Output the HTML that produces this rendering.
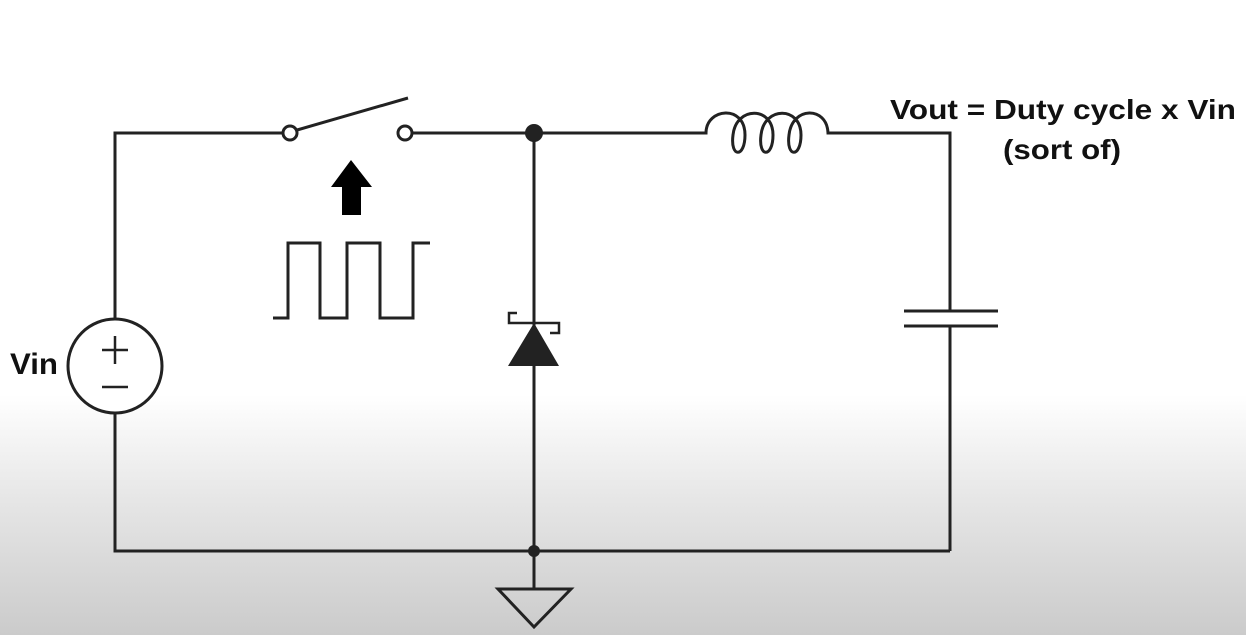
<!DOCTYPE html>
<html><head><meta charset="utf-8"><style>
html,body{margin:0;padding:0;}
body{width:1246px;height:635px;overflow:hidden;background:linear-gradient(to bottom,#fff 0px,#fff 395px,#e6e6e6 500px,#cbcbcb 635px);}
svg{position:absolute;left:0;top:0;}
text{font-family:"Liberation Sans",Arial,sans-serif;font-weight:bold;fill:#111;}
</style></head><body>
<svg width="1246" height="635" viewBox="0 0 1246 635">
<g fill="none" stroke="#222" stroke-width="3" stroke-linejoin="miter">
  <path d="M115 318 V133 H283"/>
  <path d="M412 133 H704"/>
  <path d="M828 133 H950 V311"/>
  <path d="M950 326 V551"/>
  <path d="M115 413 V551 H950"/>
  <path d="M534 133 V551"/>
  <path d="M534 551 V589"/>
  <circle cx="290" cy="133" r="7" fill="#fff"/>
  <circle cx="405" cy="133" r="7" fill="#fff"/>
  <path d="M297 130 L408 98"/>
  <circle cx="115" cy="366" r="47" fill="#fff"/>
  <path d="M102 350 H128 M115 336 V364" stroke-width="2.5"/>
  <path d="M102 387 H128" stroke-width="2.5"/>
  <path d="M704 133 H706 C706 108, 745 104, 745 135 C745 158, 730 158, 733 135 C736 106, 773 106, 773 135 C773 158, 758 158, 761 135 C764 106, 801 106, 801 135 C801 158, 786 158, 789 135 C792 106, 827 106, 828 133 H830"/>
  <path d="M904 311 H998"/>
  <path d="M904 326 H998"/>
  <path d="M517 313 H509 V323 H559 V333 H550" stroke-width="2.5"/>
  <path d="M273 318 H288 V243 H320 V318 H347 V243 H380 V318 H413 V243 H430" stroke-width="3"/>
  <path d="M498 589 H571 L534 627 Z"/>
</g>
<path d="M534 323 L559 366 H508 Z" fill="#222"/>
<circle cx="534" cy="133" r="9" fill="#222"/>
<circle cx="534" cy="551" r="6" fill="#222"/>
<path d="M351 160 L372 187 H361 V215 H342 V187 H331 Z" fill="#000"/>
<text x="10" y="374" font-size="30" textLength="48" lengthAdjust="spacingAndGlyphs">Vin</text>
<text x="890" y="119" font-size="28" textLength="346" lengthAdjust="spacingAndGlyphs">Vout = Duty cycle x Vin</text>
<text x="1003" y="159" font-size="28" textLength="118" lengthAdjust="spacingAndGlyphs">(sort of)</text>
</svg>
</body></html>
